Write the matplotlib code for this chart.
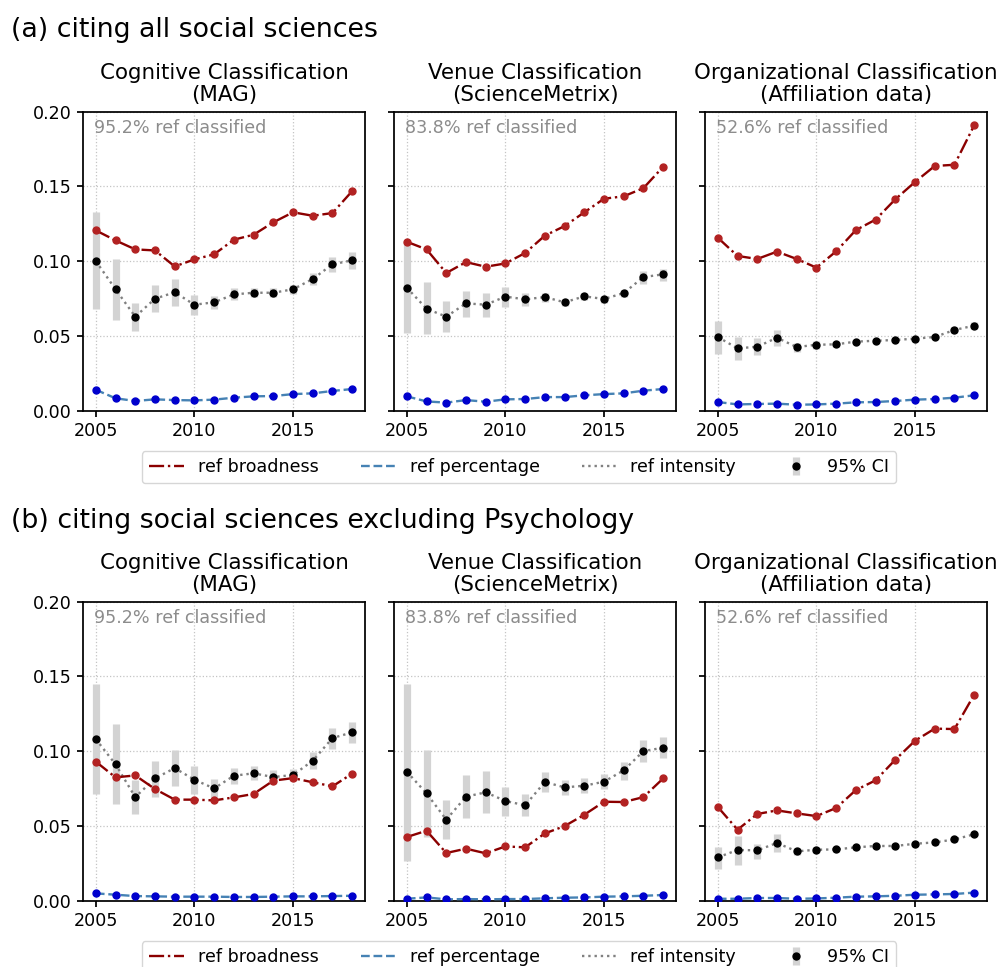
import numpy as np
import matplotlib
matplotlib.use("Agg")
import matplotlib.pyplot as plt
from matplotlib.lines import Line2D

years = list(range(2005, 2019))

panel_titles = ["Cognitive Classification\n(MAG)",
                "Venue Classification\n(ScienceMetrix)",
                "Organizational Classification\n(Affiliation data)"]
coverage = ["95.2% ref classified", "83.8% ref classified", "52.6% ref classified"]
row_titles = ["(a) citing all social sciences",
              "(b) citing social sciences excluding Psychology"]
legend_labels = ["ref broadness", "ref percentage", "ref intensity", "95% CI"]

# ---- (a) citing all social sciences ----
a_cog_broad = [0.1206, 0.1139, 0.1079, 0.1072, 0.0965, 0.1012, 0.1046, 0.1144, 0.1177, 0.1260, 0.1327, 0.1304, 0.1322, 0.1469]
a_cog_pct = [0.0140, 0.0083, 0.0065, 0.0076, 0.0071, 0.0069, 0.0074, 0.0087, 0.0096, 0.0098, 0.0111, 0.0116, 0.0132, 0.0145]
a_cog_int = [0.1001, 0.0812, 0.0629, 0.0749, 0.0792, 0.0709, 0.0725, 0.0778, 0.0789, 0.0789, 0.0812, 0.0881, 0.0979, 0.1006]
a_cog_lo = [0.0680, 0.0610, 0.0535, 0.0660, 0.0700, 0.0640, 0.0680, 0.0740, 0.0760, 0.0760, 0.0780, 0.0840, 0.0930, 0.0950]
a_cog_hi = [0.1330, 0.1015, 0.0720, 0.0840, 0.0880, 0.0775, 0.0770, 0.0820, 0.0820, 0.0820, 0.0840, 0.0920, 0.1030, 0.1060]

a_ven_broad = [0.1130, 0.1079, 0.0921, 0.0994, 0.0963, 0.0985, 0.1055, 0.1171, 0.1235, 0.1327, 0.1418, 0.1434, 0.1489, 0.1632]
a_ven_pct = [0.0096, 0.0062, 0.0054, 0.0071, 0.0060, 0.0076, 0.0078, 0.0091, 0.0091, 0.0103, 0.0111, 0.0116, 0.0134, 0.0145]
a_ven_int = [0.0823, 0.0682, 0.0629, 0.0718, 0.0709, 0.0763, 0.0745, 0.0760, 0.0725, 0.0765, 0.0747, 0.0787, 0.0894, 0.0912]
a_ven_lo = [0.0520, 0.0510, 0.0525, 0.0630, 0.0630, 0.0695, 0.0700, 0.0730, 0.0700, 0.0740, 0.0720, 0.0760, 0.0850, 0.0865]
a_ven_hi = [0.1115, 0.0860, 0.0735, 0.0800, 0.0785, 0.0830, 0.0790, 0.0790, 0.0750, 0.0790, 0.0770, 0.0810, 0.0935, 0.0950]

a_org_broad = [0.1157, 0.1035, 0.1015, 0.1064, 0.1015, 0.0957, 0.1066, 0.1208, 0.1278, 0.1414, 0.1530, 0.1637, 0.1645, 0.1909]
a_org_pct = [0.0058, 0.0042, 0.0045, 0.0047, 0.0040, 0.0042, 0.0047, 0.0056, 0.0058, 0.0065, 0.0074, 0.0078, 0.0087, 0.0103]
a_org_int = [0.0493, 0.0417, 0.0428, 0.0488, 0.0426, 0.0441, 0.0444, 0.0462, 0.0468, 0.0473, 0.0482, 0.0493, 0.0540, 0.0569]
a_org_lo = [0.0380, 0.0340, 0.0370, 0.0435, 0.0390, 0.0415, 0.0425, 0.0450, 0.0455, 0.0460, 0.0470, 0.0480, 0.0520, 0.0545]
a_org_hi = [0.0600, 0.0495, 0.0485, 0.0540, 0.0455, 0.0465, 0.0460, 0.0475, 0.0480, 0.0485, 0.0495, 0.0505, 0.0560, 0.0590]

# ---- (b) citing social sciences excluding Psychology ----
b_cog_broad = [0.0930, 0.0825, 0.0838, 0.0747, 0.0676, 0.0676, 0.0671, 0.0691, 0.0714, 0.0803, 0.0820, 0.0792, 0.0765, 0.0850]
b_cog_pct = [0.0049, 0.0040, 0.0031, 0.0029, 0.0027, 0.0027, 0.0027, 0.0025, 0.0025, 0.0027, 0.0029, 0.0029, 0.0031, 0.0033]
b_cog_int = [0.1081, 0.0912, 0.0693, 0.0818, 0.0887, 0.0809, 0.0751, 0.0836, 0.0852, 0.0827, 0.0841, 0.0936, 0.1088, 0.1126]
b_cog_lo = [0.0716, 0.0647, 0.0577, 0.0693, 0.0765, 0.0716, 0.0696, 0.0780, 0.0805, 0.0780, 0.0800, 0.0881, 0.1017, 0.1055]
b_cog_hi = [0.1447, 0.1179, 0.0805, 0.0932, 0.1006, 0.0899, 0.0812, 0.0887, 0.0901, 0.0872, 0.0883, 0.0994, 0.1157, 0.1197]

b_ven_broad = [0.0426, 0.0468, 0.0319, 0.0348, 0.0317, 0.0363, 0.0357, 0.0450, 0.0499, 0.0575, 0.0662, 0.0660, 0.0693, 0.0818]
b_ven_pct = [0.0013, 0.0022, 0.0009, 0.0011, 0.0009, 0.0011, 0.0011, 0.0016, 0.0020, 0.0022, 0.0027, 0.0029, 0.0033, 0.0038]
b_ven_int = [0.0863, 0.0718, 0.0542, 0.0696, 0.0725, 0.0667, 0.0638, 0.0794, 0.0758, 0.0769, 0.0796, 0.0872, 0.1001, 0.1023]
b_ven_lo = [0.0268, 0.0424, 0.0412, 0.0553, 0.0586, 0.0566, 0.0564, 0.0727, 0.0707, 0.0720, 0.0747, 0.0809, 0.0930, 0.0952]
b_ven_hi = [0.1452, 0.1008, 0.0671, 0.0838, 0.0867, 0.0763, 0.0713, 0.0860, 0.0807, 0.0820, 0.0847, 0.0927, 0.1072, 0.1092]

b_org_broad = [0.0627, 0.0475, 0.0580, 0.0604, 0.0584, 0.0566, 0.0620, 0.0740, 0.0805, 0.0943, 0.1070, 0.1151, 0.1148, 0.1378]
b_org_pct = [0.0013, 0.0013, 0.0018, 0.0018, 0.0013, 0.0015, 0.0020, 0.0027, 0.0029, 0.0033, 0.0040, 0.0042, 0.0045, 0.0054]
b_org_int = [0.0290, 0.0339, 0.0337, 0.0386, 0.0330, 0.0341, 0.0343, 0.0357, 0.0366, 0.0366, 0.0381, 0.0390, 0.0410, 0.0444]
b_org_lo = [0.0210, 0.0240, 0.0280, 0.0325, 0.0305, 0.0320, 0.0325, 0.0340, 0.0350, 0.0350, 0.0365, 0.0375, 0.0395, 0.0430]
b_org_hi = [0.0360, 0.0430, 0.0380, 0.0445, 0.0355, 0.0360, 0.0360, 0.0375, 0.0380, 0.0380, 0.0395, 0.0405, 0.0425, 0.0460]

rows = [
    [(a_cog_broad, a_cog_pct, a_cog_int, a_cog_lo, a_cog_hi),
     (a_ven_broad, a_ven_pct, a_ven_int, a_ven_lo, a_ven_hi),
     (a_org_broad, a_org_pct, a_org_int, a_org_lo, a_org_hi)],
    [(b_cog_broad, b_cog_pct, b_cog_int, b_cog_lo, b_cog_hi),
     (b_ven_broad, b_ven_pct, b_ven_int, b_ven_lo, b_ven_hi),
     (b_org_broad, b_org_pct, b_org_int, b_org_lo, b_org_hi)],
]

S = 1.26
plt.rcParams.update({
    "font.family": "DejaVu Sans",
    "axes.linewidth": 1.0 * S,
    "xtick.major.width": 1.0 * S,
    "ytick.major.width": 1.0 * S,
    "xtick.major.size": 3.5 * S,
    "ytick.major.size": 3.5 * S,
    "xtick.labelsize": 12.6,
    "ytick.labelsize": 12.6,
})

W, H = 1003, 967
fig = plt.figure(figsize=(W / 100, H / 100), dpi=100)

lefts = [83, 394, 705]
axw = 282
axh = 299
tops = [111.7, 601.7]
title_y = [30, 521]
legend_top = [451, 941]

C_BROAD_LINE = "#8b0000"
C_BROAD_MK = "#b22222"
C_PCT_LINE = "#4682b4"
C_PCT_MK = "#0000cd"
C_INT_LINE = "#808080"
C_CI = "#d3d3d3"
LW = 1.7
MS = 5.0

x = np.array(years)
for r in range(2):
    fig.text(11 / W, 1 - title_y[r] / H, row_titles[r], fontsize=19.3,
             ha="left", va="center")
    for c in range(3):
        broad, pct, inten, lo, hi = [np.array(v) for v in rows[r][c]]
        ax = fig.add_axes([lefts[c] / W, 1 - (tops[r] + axh) / H, axw / W, axh / H])
        ax.grid(True, linestyle=":", color="#c4c4c4", linewidth=0.9)
        ax.set_axisbelow(True)
        yerr = np.vstack([np.clip(inten - lo, 0, None), np.clip(hi - inten, 0, None)])
        ax.errorbar(x, inten, yerr=yerr, fmt="none", ecolor=C_CI,
                    elinewidth=5.2, capsize=0, zorder=2)
        ax.plot(x, inten, linestyle=":", color=C_INT_LINE, linewidth=LW, zorder=3)
        ax.plot(x, inten, linestyle="none", marker="o", color="black",
                markersize=MS, zorder=4)
        ax.plot(x, broad, linestyle="-.", color=C_BROAD_LINE, linewidth=LW, zorder=3)
        ax.plot(x, broad, linestyle="none", marker="o", color=C_BROAD_MK,
                markersize=MS, zorder=4)
        ax.plot(x, pct, linestyle="--", color=C_PCT_LINE, linewidth=LW, zorder=3)
        ax.plot(x, pct, linestyle="none", marker="o", color=C_PCT_MK,
                markersize=MS, zorder=4)
        ax.set_ylim(0, 0.2)
        ax.set_yticks([0.0, 0.05, 0.10, 0.15, 0.20])
        ax.set_xticks([2005, 2010, 2015])
        if c == 0:
            ax.set_yticklabels(["0.00", "0.05", "0.10", "0.15", "0.20"])
        else:
            ax.set_yticklabels([])
        ax.set_title(panel_titles[c], fontsize=15.4, pad=7.5, linespacing=1.15)
        ax.text(0.04, 0.975, coverage[c], transform=ax.transAxes, ha="left",
                va="top", fontsize=12.6, color="#8c8c8c")

    # legend
    h_broad = Line2D([], [], linestyle="-.", color=C_BROAD_LINE, linewidth=LW)
    h_pct = Line2D([], [], linestyle="--", color=C_PCT_LINE, linewidth=LW)
    h_int = Line2D([], [], linestyle=":", color=C_INT_LINE, linewidth=LW)
    eb = ax.errorbar([np.nan], [np.nan], yerr=[[np.nan], [np.nan]], fmt="o",
                     color="black", ecolor=C_CI, elinewidth=5.2, capsize=0,
                     markersize=MS)
    fig.legend([h_broad, h_pct, h_int, eb], legend_labels, ncol=4,
               loc="upper center", bbox_to_anchor=(519 / W, 1 - legend_top[r] / H),
               fontsize=12.6, frameon=True, handlelength=2.0, columnspacing=2.4,
               borderaxespad=0.0)

fig.savefig("out.png", dpi=100)
